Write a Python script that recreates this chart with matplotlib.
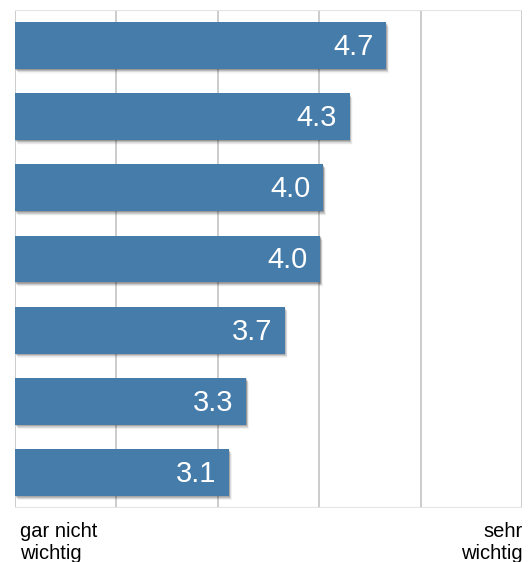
import numpy as np
import matplotlib.pyplot as plt

plt.rcParams['font.family'] = ['Liberation Sans', 'DejaVu Sans']

# values top to bottom
werte = [4.66, 4.30, 4.04, 4.01, 3.66, 3.28, 3.11]
etiketten = ['{:.1f}'.format(v) for v in werte]
x_min, x_max = 1, 6
gitter = [1, 2, 3, 4, 5, 6]
achse_links = 'gar nicht\nwichtig'
achse_rechts = 'sehr\nwichtig'

farbe = '#457caa'

fig = plt.figure(figsize=(5.3, 5.62), dpi=100)
ax = fig.add_axes([15 / 530, 1 - 508 / 562, 507 / 530, 498 / 562])

pos = np.arange(len(werte))
breite = [v - x_min for v in werte]

# weicher Schatten
for k, a in zip(range(1, 9), np.linspace(0.10, 0.02, 8)):
    dx = 0.012 * k
    ax.barh(pos + 0.008 * k, breite, height=0.66, left=x_min + dx * 0.3,
            color='black', alpha=a, linewidth=0, zorder=2)

ax.barh(pos, breite, height=0.66, left=x_min, color=farbe, linewidth=0, zorder=3)

for p, v, t in zip(pos, werte, etiketten):
    ax.text(v - 0.125, p + 0.02, t, ha='right', va='center', color='white',
            fontsize=21, zorder=4)

ax.set_xlim(x_min, x_max)
ax.set_ylim(len(werte) - 0.5, -0.5)
for g in gitter:
    ax.axvline(g, color='#c4c4c4', linewidth=1.2, zorder=1)
ax.axhline(-0.5, color='#e4e4e4', linewidth=1.5, zorder=1)
ax.axhline(len(werte) - 0.5, color='#e4e4e4', linewidth=1.5, zorder=1)

ax.set_xticks([])
ax.set_yticks([])
for s in ax.spines.values():
    s.set_visible(False)

fig.text(20 / 530, 1 - 522 / 562, achse_links, ha='left', va='top', fontsize=14.5,
         linespacing=1.18)
fig.text(523 / 530, 1 - 522 / 562, achse_rechts, ha='right', va='top', fontsize=14.5,
         linespacing=1.18)

fig.savefig('out.png', dpi=100)
